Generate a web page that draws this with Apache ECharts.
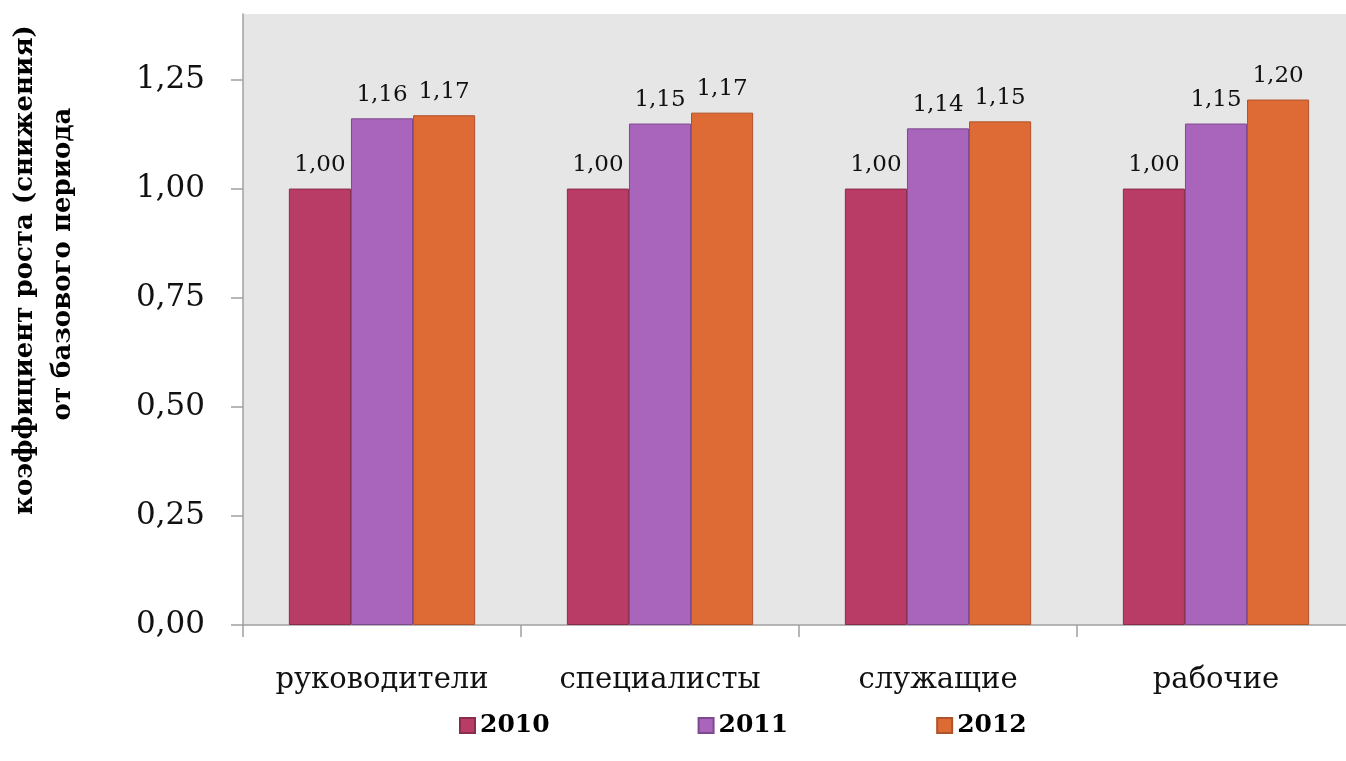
<!DOCTYPE html>
<html>
<head>
<meta charset="utf-8">
<script src="https://cdn.jsdelivr.net/npm/echarts@6/dist/echarts.min.js"></script>
<style>
html,body{margin:0;padding:0;background:#fff;overflow:hidden;}
#chart{width:1355px;height:761px;}
</style>
</head>
<body>
<div id="chart"></div>
<script>
var categories = ['руководители', 'специалисты', 'служащие', 'рабочие'];
var seriesNames = ['2010', '2011', '2012'];
var values2010 = [1.00, 1.00, 1.00, 1.00];
var values2011 = [1.161, 1.149, 1.138, 1.149];
var values2012 = [1.168, 1.174, 1.154, 1.204];
var yTicks = [0, 0.25, 0.5, 0.75, 1.0, 1.25];
var titleLines = ['коэффициент роста (снижения)', 'от базового периода'];

var fillColors = ['#B83C66', '#A965BC', '#DE6B35'];
var borderColors = ['#8A2C4C', '#7E4A8F', '#B0522A'];
var serif = '"DejaVu Serif", "Liberation Serif", serif';

function fmt(v){ return v.toFixed(2).replace('.', ','); }

var chart = echarts.init(document.getElementById('chart'));
var allValues = [values2010, values2011, values2012];
var series = seriesNames.map(function(name, i){
  return {
    name: name,
    type: 'bar',
    data: allValues[i],
    barGap: '0%',
    barCategoryGap: '33%',
    itemStyle: { color: fillColors[i], borderColor: borderColors[i], borderWidth: 1 },
    label: {
      show: true, position: 'top', distance: 12,
      fontFamily: serif, fontSize: 23, color: '#111',
      formatter: function(p){ return fmt(p.value); }
    }
  };
});

chart.setOption({
  animation: false,
  backgroundColor: '#fff',
  grid: { left: 243, top: 14, right: 0, bottom: 136, containLabel: false,
          show: true, backgroundColor: '#E6E6E6', borderWidth: 0 },
  legend: {
    data: seriesNames, left: 454, top: 708, itemWidth: 15, itemHeight: 15, itemGap: 148,
    icon: 'rect',
    textStyle: { fontFamily: serif, fontWeight: 'bold', fontSize: 25, color: '#000' }
  },
  xAxis: {
    type: 'category', data: categories,
    axisLine: { lineStyle: { color: '#A0A0A0', width: 1.5 } },
    axisTick: { show: true, length: 12, alignWithLabel: false, lineStyle: { color: '#A0A0A0', width: 1.5 } },
    axisLabel: { margin: 41, fontFamily: serif, fontSize: 29, color: '#111' }
  },
  yAxis: {
    type: 'value', min: 0, max: 1.4, interval: 0.25,
    splitLine: { show: false },
    axisLine: { show: true, lineStyle: { color: '#A0A0A0', width: 1.5 } },
    axisTick: { show: true, length: 12, lineStyle: { color: '#A0A0A0', width: 1.5 } },
    axisLabel: { margin: 38, showMaxLabel: false, fontFamily: serif, fontSize: 31, color: '#111',
      formatter: function(v){ return yTicks.indexOf(v) >= 0 ? fmt(v) : ''; } }
  },
  graphic: [
    { type: 'text', x: 25, y: 270, rotation: Math.PI / 2,
      style: { text: titleLines[0], fontFamily: serif, fontWeight: 'bold', fontSize: 26, fill: '#000',
               textAlign: 'center', textVerticalAlign: 'middle' } },
    { type: 'text', x: 63, y: 264, rotation: Math.PI / 2,
      style: { text: titleLines[1], fontFamily: serif, fontWeight: 'bold', fontSize: 26, fill: '#000',
               textAlign: 'center', textVerticalAlign: 'middle' } }
  ],
  series: series
});
</script>
</body>
</html>
